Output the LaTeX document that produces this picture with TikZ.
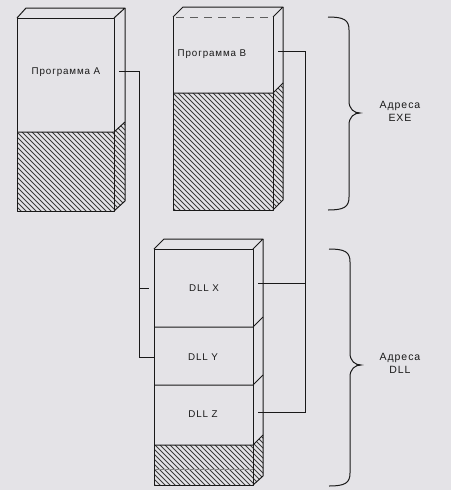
\documentclass[tikz,border=0pt]{standalone}
\usepackage{fontspec}
\setmainfont[LetterSpace=9]{Liberation Sans}
\definecolor{bg}{RGB}{228,227,231}
\definecolor{ink}{RGB}{25,25,25}
\tikzset{
  boxline/.style={draw=ink, line width=1pt, line join=round},
  hatchline/.style={draw=ink!85, line width=0.8pt},
  conn/.style={draw=ink, line width=0.9pt},
  lbl/.style={font=\fontsize{9.8}{11}\selectfont, text=ink, inner sep=0pt},
  sidelbl/.style={font=\fontsize{10.5}{12}\selectfont, text=ink, inner sep=0pt},
  brace/.style={draw=ink, line width=1pt},
}
\newcommand{\hatchfill}[1]{%
  \begin{scope}
    \clip #1;
    \foreach \k in {-520,-515,...,480} {\draw[hatchline] (\k,0) -- ++(560,560);}
  \end{scope}}
\begin{document}
\begin{tikzpicture}[x=1pt,y=-1pt]
\fill[bg] (0,0) rectangle (451,490);
\useasboundingbox (0,0) rectangle (451,490);

% ---------- Box A ----------
\hatchfill{(17,132) rectangle (114,211)}
\hatchfill{(114,132) -- (125,122) -- (125,201) -- (114,211) -- cycle}
\draw[boxline] (17,18) rectangle (114,211);
\draw[boxline] (17,18) -- (26,8) -- (125,8) -- (114,18);
\draw[boxline] (125,8) -- (125,201) -- (114,211);
\draw[boxline] (17,132) -- (114,132) -- (125,122);
\node[lbl] (progA) at (66,72) {Программа A};
\coordinate (aout) at (119,71);

% ---------- Box B ----------
\hatchfill{(173,93) rectangle (273,210)}
\hatchfill{(273,93) -- (283,83) -- (283,200) -- (273,210) -- cycle}
\draw[boxline] (273,17) -- (273,210) -- (173,210) -- (173,17);
\draw[draw=ink!70, line width=0.6pt, dash pattern=on 8pt off 6pt] (176,17) -- (273,17);
\draw[boxline] (173,17) -- (183,7) -- (283,7) -- (273,17);
\draw[boxline] (283,7) -- (283,200) -- (273,210);
\draw[boxline] (173,93) -- (273,93) -- (283,83);
\node[lbl] (progB) at (212,54) {Программа B};
\coordinate (bout) at (278,51);

% ---------- DLL box ----------
\hatchfill{(154,445) rectangle (253,485)}
\hatchfill{(253,445) -- (263,435) -- (263,476) -- (253,485) -- cycle}
\draw[draw=ink!50, line width=0.5pt] (154,469) -- (253,469);
\draw[boxline] (154,249) rectangle (253,485);
\draw[boxline] (154,249) -- (164,239) -- (263,239) -- (253,249);
\draw[boxline] (263,239) -- (263,476) -- (253,485);
\foreach \yy in {327,385,445} {\draw[boxline] (154,\yy) -- (253,\yy) -- (263,\yy-10);}
\node[lbl] (dllx) at (204,288) {DLL X};
\node[lbl] (dlly) at (203,357) {DLL Y};
\node[lbl] (dllz) at (203,414) {DLL Z};
\coordinate (yin) at (154,357);
\coordinate (xout) at (258,283);
\coordinate (zout) at (258,412);

% ---------- connectors ----------
\coordinate (lcol) at (139,0);
\coordinate (rcol) at (305,0);
\draw[conn] (aout) -- (aout -| lcol) -- (yin -| lcol) -- (yin);
\draw[conn] (bout) -- (bout -| rcol) -- (zout -| rcol) -- (zout);
\draw[conn] (xout) -- (xout -| rcol);
\coordinate (tick) at (139,288);
\draw[conn] (tick) -- ++(10,0);

% ---------- braces ----------
\draw[brace] (328,17) .. controls (344,17) and (349,20) .. (349,30)
  -- (349,101) .. controls (349,109) and (354,113) .. (360,113)
  .. controls (354,113) and (349,117) .. (349,125)
  -- (349,197) .. controls (349,207) and (344,210) .. (328,210);
\draw[brace] (329,249) .. controls (345,249) and (350,252) .. (350,262)
  -- (350,353) .. controls (350,361) and (355,365) .. (361,365)
  .. controls (355,365) and (350,369) .. (350,377)
  -- (350,473) .. controls (350,483) and (345,486) .. (329,486);
\node[sidelbl, align=center] (exe) at (400,111) {Адреса\\[1pt]EXE};
\node[sidelbl, align=center] (dll) at (400,363) {Адреса\\[1pt]DLL};
\end{tikzpicture}
\end{document}
